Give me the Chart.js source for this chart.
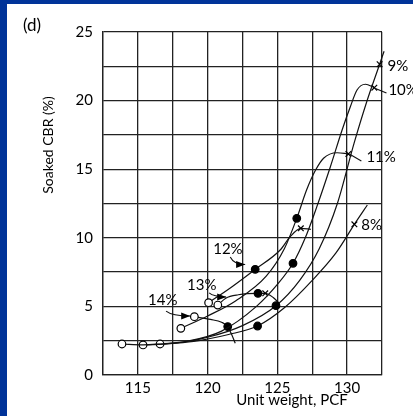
<!DOCTYPE html>
<html>
<head>
<meta charset="utf-8">
<script src="https://cdn.jsdelivr.net/npm/chart.js@4.4.1/dist/chart.umd.min.js"></script>
<style>
  html, body { margin: 0; padding: 0; background: #003399; width: 413px; height: 416px; overflow: hidden; }
  #cbrChart { position: absolute; left: 7px; top: 4px; background: #fff; }
</style>
</head>
<body>
<canvas id="cbrChart" width="406" height="412"></canvas>
<script>
/* ----- dati ----- */
const moisture = ["8%", "9%", "10%", "11%", "12%", "13%", "14%"];

// o = cerchio vuoto, f = cerchio pieno, x = croce, - = nessun simbolo
const uw8 = [113.86, 115.37, 116.59, 119, 121.5, 123.58, 125.5, 127.5, 129.2, 130.52, 131.45];
const cbr8 = [2.26, 2.2, 2.26, 2.45, 2.95, 3.57, 4.9, 6.9, 8.9, 10.98, 12.39];
const mk8 = ["o", "-", "-", "-", "-", "f", "-", "-", "-", "x", "-"];

const uw9 = [115.37, 117.5, 120, 122.5, 124.9, 126.6, 128.0, 129.3, 130.5, 131.4, 132.33, 132.65];
const cbr9 = [2.19, 2.3, 2.75, 3.6, 5.05, 6.9, 9.2, 12.5, 16.9, 19.9, 22.65, 23.6];
const mk9 = ["o", "-", "-", "-", "f", "-", "-", "-", "-", "-", "x", "-"];

const uw10 = [116.59, 118.5, 121, 123.5, 125, 126.12, 127.0, 127.83, 128.8, 129.64, 130.23, 130.71, 131.31, 131.95];
const cbr10 = [2.26, 2.45, 3.2, 5.0, 6.6, 8.14, 10.0, 12.27, 15.18, 17.86, 19.55, 20.77, 21.19, 20.94];
const mk10 = ["o", "-", "-", "-", "-", "f", "-", "-", "-", "-", "-", "-", "-", "x"];

const uw11 = [118.08, 120, 122, 124.2, 125.5, 126.39, 127.1, 127.72, 128.31, 129.28, 130.09];
const cbr11 = [3.4, 4.3, 5.4, 7.2, 9.2, 11.42, 13.5, 14.9, 15.8, 16.2, 16.11];
const mk11 = ["o", "-", "-", "-", "-", "f", "-", "-", "-", "-", "x"];

const uw12 = [120.07, 121.7, 123.41, 125.2, 125.92, 126.68, 127.4];
const cbr12 = [5.27, 6.4, 7.7, 9.11, 10.08, 10.69, 10.62];
const mk12 = ["o", "-", "f", "-", "-", "x", "-"];

const uw13 = [120.73, 121.3, 122.2, 123.61, 124.13, 124.7, 125.15];
const cbr13 = [5.1, 5.6, 5.85, 5.95, 5.95, 5.65, 5.2];
const mk13 = ["o", "-", "-", "f", "x", "-", "-"];

const uw14 = [119.05, 120.2, 121.0, 121.44, 121.7, 121.98];
const cbr14 = [4.25, 4.05, 3.85, 3.53, 3.0, 2.31];
const mk14 = ["o", "-", "-", "f", "-", "-"];

const xTicks = [115, 120, 125, 130];
const yTicks = [0, 5, 10, 15, 20, 25];

/* ----- etichette delle curve ----- */
const labelX = [131.02, 132.89, 132.96, 131.38, 120.4, 118.53, 115.73];
const labelY = [10.93, 22.52, 20.77, 15.89, 9.18, 6.56, 5.47];

// frecce per 12%, 13%, 14%
const arrowLabels = ["12%", "13%", "14%"];
const arrowFromX = [121.62, 120.11, 117.02];
const arrowFromY = [8.6, 5.98, 4.66];
const arrowToX = [122.69, 121.33, 118.75];
const arrowToY = [8.05, 5.69, 4.3];

// linee di richiamo per 10% e 11%
const leaderFromX = [132.03, 130.16];
const leaderFromY = [20.88, 16.11];
const leaderToX = [132.82, 131.02];
const leaderToY = [20.55, 15.6];

/* ----- costruzione dataset ----- */
const curves = [
  [uw8, cbr8, mk8],
  [uw9, cbr9, mk9],
  [uw10, cbr10, mk10],
  [uw11, cbr11, mk11],
  [uw12, cbr12, mk12],
  [uw13, cbr13, mk13],
  [uw14, cbr14, mk14],
];

const datasets = curves.map(([uw, cbr, mk], i) => ({
  label: moisture[i],
  data: uw.map((v, j) => ({ x: v, y: cbr[j] })),
  borderColor: "#111",
  borderWidth: 1.2,
  cubicInterpolationMode: "monotone",
  fill: false,
  clip: false,
  pointStyle: mk.map((m) => (m === "x" ? "crossRot" : "circle")),
  pointRadius: mk.map((m) => (m === "-" ? 0 : m === "x" ? 4 : 3.8)),
  pointBackgroundColor: mk.map((m) => (m === "o" ? "#fff" : "#000")),
  pointBorderColor: "#000",
  pointBorderWidth: 1.2,
}));

const FONT = "Lato, 'Open Sans', sans-serif";

function arrowHead(ctx, x0, y0, x1, y1) {
  const a = Math.atan2(y1 - y0, x1 - x0);
  const len = 9, w = 3.5;
  ctx.beginPath();
  ctx.moveTo(x1, y1);
  ctx.lineTo(x1 - len * Math.cos(a) + w * Math.sin(a), y1 - len * Math.sin(a) - w * Math.cos(a));
  ctx.lineTo(x1 - len * Math.cos(a) - w * Math.sin(a), y1 - len * Math.sin(a) + w * Math.cos(a));
  ctx.closePath();
  ctx.fill();
}

const annotations = {
  id: "annotations",
  afterDatasetsDraw(chart) {
    const { ctx, scales } = chart;
    const sx = scales.x, sy = scales.y;
    ctx.save();
    ctx.fillStyle = "#000";
    ctx.strokeStyle = "#111";
    ctx.lineWidth = 1.1;

    // etichette curve
    ctx.font = "15px " + FONT;
    ctx.textAlign = "left";
    ctx.textBaseline = "middle";
    moisture.forEach((t, i) => {
      ctx.fillText(t, sx.getPixelForValue(labelX[i]), sy.getPixelForValue(labelY[i]));
    });

    // frecce
    arrowLabels.forEach((t, i) => {
      const x0 = sx.getPixelForValue(arrowFromX[i]);
      const y0 = sy.getPixelForValue(arrowFromY[i]);
      const x1 = sx.getPixelForValue(arrowToX[i]);
      const y1 = sy.getPixelForValue(arrowToY[i]);
      const cx = x0 + (x1 - x0) * 0.25;
      const cy = y1;
      ctx.beginPath();
      ctx.moveTo(x0, y0);
      ctx.quadraticCurveTo(cx, cy, x1, y1);
      ctx.stroke();
      arrowHead(ctx, cx, cy, x1, y1);
    });

    // richiami
    leaderFromX.forEach((v, i) => {
      ctx.beginPath();
      ctx.moveTo(sx.getPixelForValue(v), sy.getPixelForValue(leaderFromY[i]));
      ctx.lineTo(sx.getPixelForValue(leaderToX[i]), sy.getPixelForValue(leaderToY[i]));
      ctx.stroke();
    });

    // titoli assi
    ctx.textAlign = "center";
    ctx.font = "15px " + FONT;
    ctx.fillText("Unit weight, PCF", 285, 396);
    ctx.font = "17px " + FONT;
    ctx.fillText("(d)", 25, 22);
    ctx.translate(41, 141);
    ctx.rotate(-Math.PI / 2);
    ctx.font = "14px " + FONT;
    ctx.fillText("Soaked CBR (%)", 0, 0);
    ctx.restore();
  },
};

new Chart("cbrChart", {
  type: "line",
  data: { datasets },
  options: {
    responsive: false,
    animation: false,
    layout: { padding: { left: 0, top: 28, right: 31, bottom: 0 } },
    plugins: { legend: { display: false }, tooltip: { enabled: false } },
    scales: {
      x: {
        type: "linear",
        min: 112.5,
        max: 132.5,
        afterFit: (s) => { s.height = 41; },
        ticks: {
          stepSize: 2.5,
          padding: 4,
          color: "#000",
          font: { family: FONT, size: 15 },
          callback: (v) => (xTicks.includes(v) ? v : ""),
        },
        grid: { color: "#222", lineWidth: 1.3, drawTicks: false },
        border: { color: "#222", width: 1.3 },
      },
      y: {
        min: 0,
        max: 25,
        afterFit: (s) => { s.width = 96; },
        ticks: {
          stepSize: 2.5,
          padding: 10,
          color: "#000",
          font: { family: FONT, size: 15 },
          callback: (v) => (yTicks.includes(v) ? v : ""),
        },
        grid: { color: "#222", lineWidth: 1.3, drawTicks: false },
        border: { color: "#222", width: 1.3 },
      },
    },
  },
  plugins: [annotations],
});
</script>
</body>
</html>
